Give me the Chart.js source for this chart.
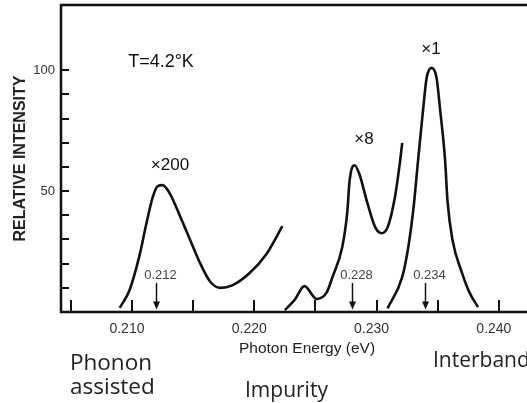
<!DOCTYPE html>
<html>
<head>
<meta charset="utf-8">
<script src="https://cdn.jsdelivr.net/npm/chart.js@4.4.1/dist/chart.umd.min.js"></script>
<style>
    html, body { margin: 0; padding: 0; background: #fff; }
    #wrap { width: 527px; height: 403px; position: relative; }
</style>
</head>
<body>
<div id="wrap"><canvas id="chartPL"></canvas></div>
<script>
// valores (energia em eV, intensidade relativa)
var energiaFonon = [0.2090, 0.2098, 0.2106, 0.2112, 0.2117, 0.2121, 0.2125, 0.2131, 0.2139, 0.2147, 0.2155, 0.2164, 0.2172, 0.2182, 0.2196, 0.2210, 0.2223];
var intensFonon = [1.7, 9, 23, 37, 47.5, 52, 52.5, 49, 40, 30.5, 21, 12.5, 10, 11, 16, 24, 35.5];

var energiaImpureza = [0.2225, 0.2233, 0.2241, 0.2251, 0.2259, 0.2264, 0.2272, 0.2276, 0.2278, 0.2282, 0.2286, 0.2292, 0.2299, 0.2304, 0.2309, 0.2315, 0.2319, 0.2321];
var intensImpureza = [0.8, 5, 10.7, 5.4, 7.9, 14.5, 27, 41, 54.5, 60.7, 57, 46, 35, 32.6, 35, 47.5, 61.5, 70];

var energiaInterbanda = [0.2309, 0.2321, 0.2326, 0.2330, 0.2334, 0.2338, 0.2341, 0.2345, 0.2349, 0.2352, 0.2356, 0.2358, 0.2362, 0.2370, 0.2376, 0.2383];
var intensInterbanda = [1.5, 14.5, 27, 42, 63, 83.5, 97, 101, 97, 83.5, 63, 46, 30, 16, 8, 2];

var setasEnergia = [0.212, 0.228, 0.234];
var setasRotulo = ['0.212', '0.228', '0.234'];

var xRotulos = [0.210, 0.220, 0.230, 0.240];
var yRotulos = [50, 100];
var xMarcas = [0.205, 0.210, 0.215, 0.220, 0.225, 0.230, 0.235, 0.240];
var yMarcas = [10, 20, 30, 40, 50, 60, 70, 80, 90, 100];

function montarPontos(xs, ys) {
    var pts = [];
    for (var n = 0; n < xs.length; n++) {
        pts.push({ x: xs[n], y: ys[n] });
    }
    return pts;
}

function serie(xs, ys) {
    return {
        data: montarPontos(xs, ys),
        borderColor: '#111',
        borderWidth: 2.6,
        pointRadius: 0,
        fill: false,
        cubicInterpolationMode: 'monotone'
    };
}

// moldura, marcas internas, setas e textos
var extras = {
    id: 'extras',
    afterDraw: function(chart) {
        var ctx = chart.ctx;
        var a = chart.chartArea;
        var sx = chart.scales.x;
        var sy = chart.scales.y;
        ctx.save();
        ctx.strokeStyle = '#111';
        ctx.lineWidth = 2.5;
        ctx.beginPath();
        ctx.moveTo(a.right + 3, a.top);
        ctx.lineTo(a.left, a.top);
        ctx.lineTo(a.left, a.bottom);
        ctx.lineTo(a.right + 3, a.bottom);
        ctx.stroke();

        ctx.lineWidth = 2;
        ctx.beginPath();
        xMarcas.forEach(function(v) {
            var px = Math.round(sx.getPixelForValue(v));
            ctx.moveTo(px, a.bottom);
            ctx.lineTo(px, a.bottom - 12);
        });
        yMarcas.forEach(function(v) {
            var py = Math.round(sy.getPixelForValue(v));
            ctx.moveTo(a.left, py);
            ctx.lineTo(a.left + 8, py);
        });
        ctx.stroke();

        // setas
        ctx.lineWidth = 1.5;
        ctx.fillStyle = '#111';
        setasEnergia.forEach(function(v, i) {
            var px = Math.round(sx.getPixelForValue(v)) + 0.5;
            var y0 = sy.getPixelForValue(12);
            var y1 = sy.getPixelForValue(1);
            ctx.beginPath();
            ctx.moveTo(px, y0);
            ctx.lineTo(px, y1 - 6);
            ctx.stroke();
            ctx.beginPath();
            ctx.moveTo(px - 3.5, y1 - 8);
            ctx.lineTo(px + 3.5, y1 - 8);
            ctx.lineTo(px, y1);
            ctx.closePath();
            ctx.fill();

            ctx.font = '13px Arial, "Liberation Sans"';
            ctx.fillStyle = '#444';
            ctx.textAlign = 'center';
            ctx.textBaseline = 'middle';
            ctx.fillText(setasRotulo[i], px + 4, y0 - 8);
            ctx.fillStyle = '#111';
        });

        ctx.fillStyle = '#111';
        ctx.textAlign = 'center';
        ctx.textBaseline = 'middle';
        ctx.font = '18px Arial, "Liberation Sans"';
        ctx.fillText('T=4.2°K', 161, 62);
        ctx.font = '17px Arial, "Liberation Sans"';
        ctx.fillText('×200', 170, 165);
        ctx.fillText('×8', 364, 139);
        ctx.fillText('×1', 431, 49);

        ctx.fillStyle = '#222';
        ctx.font = '15.5px Arial, "Liberation Sans"';
        ctx.fillText('Photon Energy (eV)', 307, 349);

        ctx.textAlign = 'left';
        ctx.textBaseline = 'alphabetic';
        ctx.font = '22.5px "Open Sans"';
        ctx.fillText('Phonon', 70, 370);
        ctx.fillText('assisted', 70, 394);
        ctx.font = '21px "Open Sans"';
        ctx.fillText('Impurity', 245, 397);
        ctx.fillText('Interband', 433, 367);
        ctx.restore();
    }
};

function plotarEspectro() {
    var ctx = document.getElementById('chartPL').getContext('2d');
    var myChart = new Chart(ctx, {
        type: 'line',
        data: {
            datasets: [
                serie(energiaFonon, intensFonon),
                serie(energiaImpureza, intensImpureza),
                serie(energiaInterbanda, intensInterbanda)
            ]
        },
        options: {
            responsive: true,
            maintainAspectRatio: false,
            animation: false,
            devicePixelRatio: 1,
            layout: { padding: { top: 5, right: 0, left: 0, bottom: 0 } },
            plugins: {
                legend: { display: false },
                tooltip: { enabled: false }
            },
            scales: {
                x: {
                    type: 'linear',
                    min: 0.2042,
                    max: 0.2423,
                    grid: { display: false, drawTicks: false },
                    border: { display: false },
                    afterBuildTicks: function(scale) {
                        scale.ticks = xRotulos.map(function(v) { return { value: v }; });
                    },
                    afterFit: function(scale) {
                        scale.height = 91;
                        scale.paddingLeft = 0;
                        scale.paddingRight = 0;
                    },
                    ticks: {
                        padding: 9,
                        labelOffset: -5,
                        maxRotation: 0,
                        color: '#333',
                        font: { family: 'Arial, "Liberation Sans"', size: 14 },
                        callback: function(v) { return v.toFixed(3); }
                    }
                },
                y: {
                    min: 0,
                    max: 127,
                    grid: { display: false, drawTicks: false },
                    border: { display: false },
                    afterBuildTicks: function(scale) {
                        scale.ticks = yRotulos.map(function(v) { return { value: v }; });
                    },
                    afterFit: function(scale) {
                        scale.width = 61;
                        scale.paddingTop = 0;
                        scale.paddingBottom = 0;
                    },
                    ticks: {
                        padding: 6,
                        color: '#333',
                        font: { family: 'Arial, "Liberation Sans"', size: 13 }
                    },
                    title: {
                        display: true,
                        text: 'RELATIVE INTENSITY',
                        color: '#222',
                        font: { family: 'Arial, "Liberation Sans"', size: 16, weight: 'bold' },
                        padding: { top: 11, bottom: 0 }
                    }
                }
            }
        },
        plugins: [extras]
    });
}

plotarEspectro();
</script>
</body>
</html>
